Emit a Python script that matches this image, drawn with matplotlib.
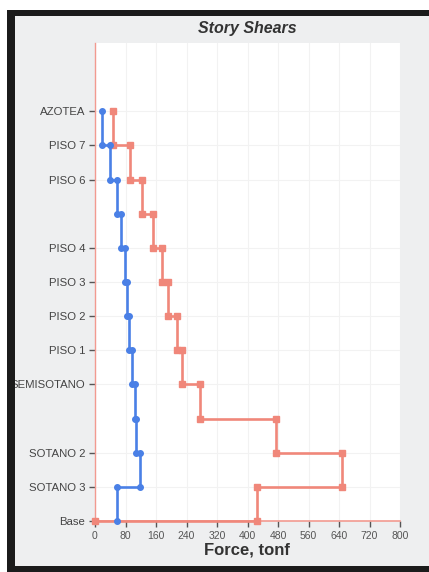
import matplotlib
matplotlib.use("Agg")
import matplotlib.pyplot as plt
from matplotlib.patches import Rectangle

plt.rcParams['font.family'] = ['Liberation Sans', 'DejaVu Sans']

# Niveles del edificio (Base = 0 ... AZOTEA = 12)
niveles = ["Base", "SOTANO 3", "SOTANO 2", "SOTANO 1", "SEMISOTANO", "PISO 1",
           "PISO 2", "PISO 3", "PISO 4", "PISO 5", "PISO 6", "PISO 7", "AZOTEA"]
niveles_con_etiqueta = ["Base", "SOTANO 3", "SOTANO 2", "SEMISOTANO", "PISO 1",
                        "PISO 2", "PISO 3", "PISO 4", "PISO 6", "PISO 7", "AZOTEA"]

# Cortante por entrepiso (tonf), de AZOTEA hacia abajo hasta SOTANO 3
cortante_x = [18, 39, 57, 67, 79, 85, 90, 98, 104, 108, 117, 57]
cortante_y = [48, 92, 123, 152, 176, 191, 214, 228, 276, 476, 647, 425]
cortante_y_base = 0

xticks = [0, 80, 160, 240, 320, 400, 480, 560, 640, 720, 800]


def escalones(cortantes):
    # cada entrepiso va del nivel superior al inferior con cortante constante
    xs, ys = [], []
    top = len(cortantes)
    for i, v in enumerate(cortantes):
        xs += [v, v]
        ys += [top - i, top - i - 1]
    return xs, ys


W, H = 429, 572
oscuro = "#1b1b1b"
fig = plt.figure(figsize=(W / 100, H / 100), dpi=100, facecolor="white")
fig.add_artist(Rectangle((7 / W, 0), 1, 1 - 10 / H, transform=fig.transFigure,
                         facecolor="#eeeff0", edgecolor="none", zorder=-1))
# marco oscuro: arriba, izquierda y abajo
for x0, y0, w, h in [(7, 10, W - 7, 6), (7, 10, 8, H - 10), (7, H - 6, W - 7, 6)]:
    fig.add_artist(Rectangle((x0 / W, 1 - (y0 + h) / H), w / W, h / H,
                             transform=fig.transFigure, facecolor=oscuro,
                             edgecolor="none", zorder=10))

ax = fig.add_axes([95 / W, 1 - 521 / H, 305 / W, 478 / H])
ax.set_facecolor("white")

xs, ys = escalones(cortante_y)
xs.append(cortante_y_base)
ys.append(0)
ax.plot(xs, ys, color="#f0877a", lw=1.9, marker="s", ms=3.8,
        clip_on=False, zorder=3)

xs, ys = escalones(cortante_x)
ax.plot(xs, ys, color="#4a80e6", lw=1.9, marker="o", ms=4,
        clip_on=False, zorder=4)

ax.set_xlim(0, 800)
ax.set_ylim(0, 14)
ax.set_xticks(xticks)
ax.set_xticklabels([str(t) for t in xticks], fontsize=7.5, color="#555555")
ax.set_yticks([niveles.index(n) for n in niveles_con_etiqueta])
ax.set_yticklabels(niveles_con_etiqueta, fontsize=8.2, color="#444444")
ax.tick_params(axis="both", length=4, width=1, color="#555555", pad=3)

ax.grid(True, color="#f2f2f2", lw=0.8)
ax.set_axisbelow(True)
for lado in ["top", "right"]:
    ax.spines[lado].set_visible(False)
ax.spines["left"].set_color("#f29a90")
ax.spines["bottom"].set_color("#f29a90")
ax.spines["left"].set_linewidth(1)
ax.spines["bottom"].set_linewidth(1.2)

fig.text(247 / W, 1 - 28 / H, "Story Shears", ha="center", va="center",
         fontsize=11.5, fontweight="bold", fontstyle="italic", color="#333333")
fig.text(247 / W, 1 - 550 / H, "Force, tonf", ha="center", va="center",
         fontsize=12, fontweight="bold", color="#333333")

fig.savefig("out.png", dpi=100, facecolor=fig.get_facecolor())
